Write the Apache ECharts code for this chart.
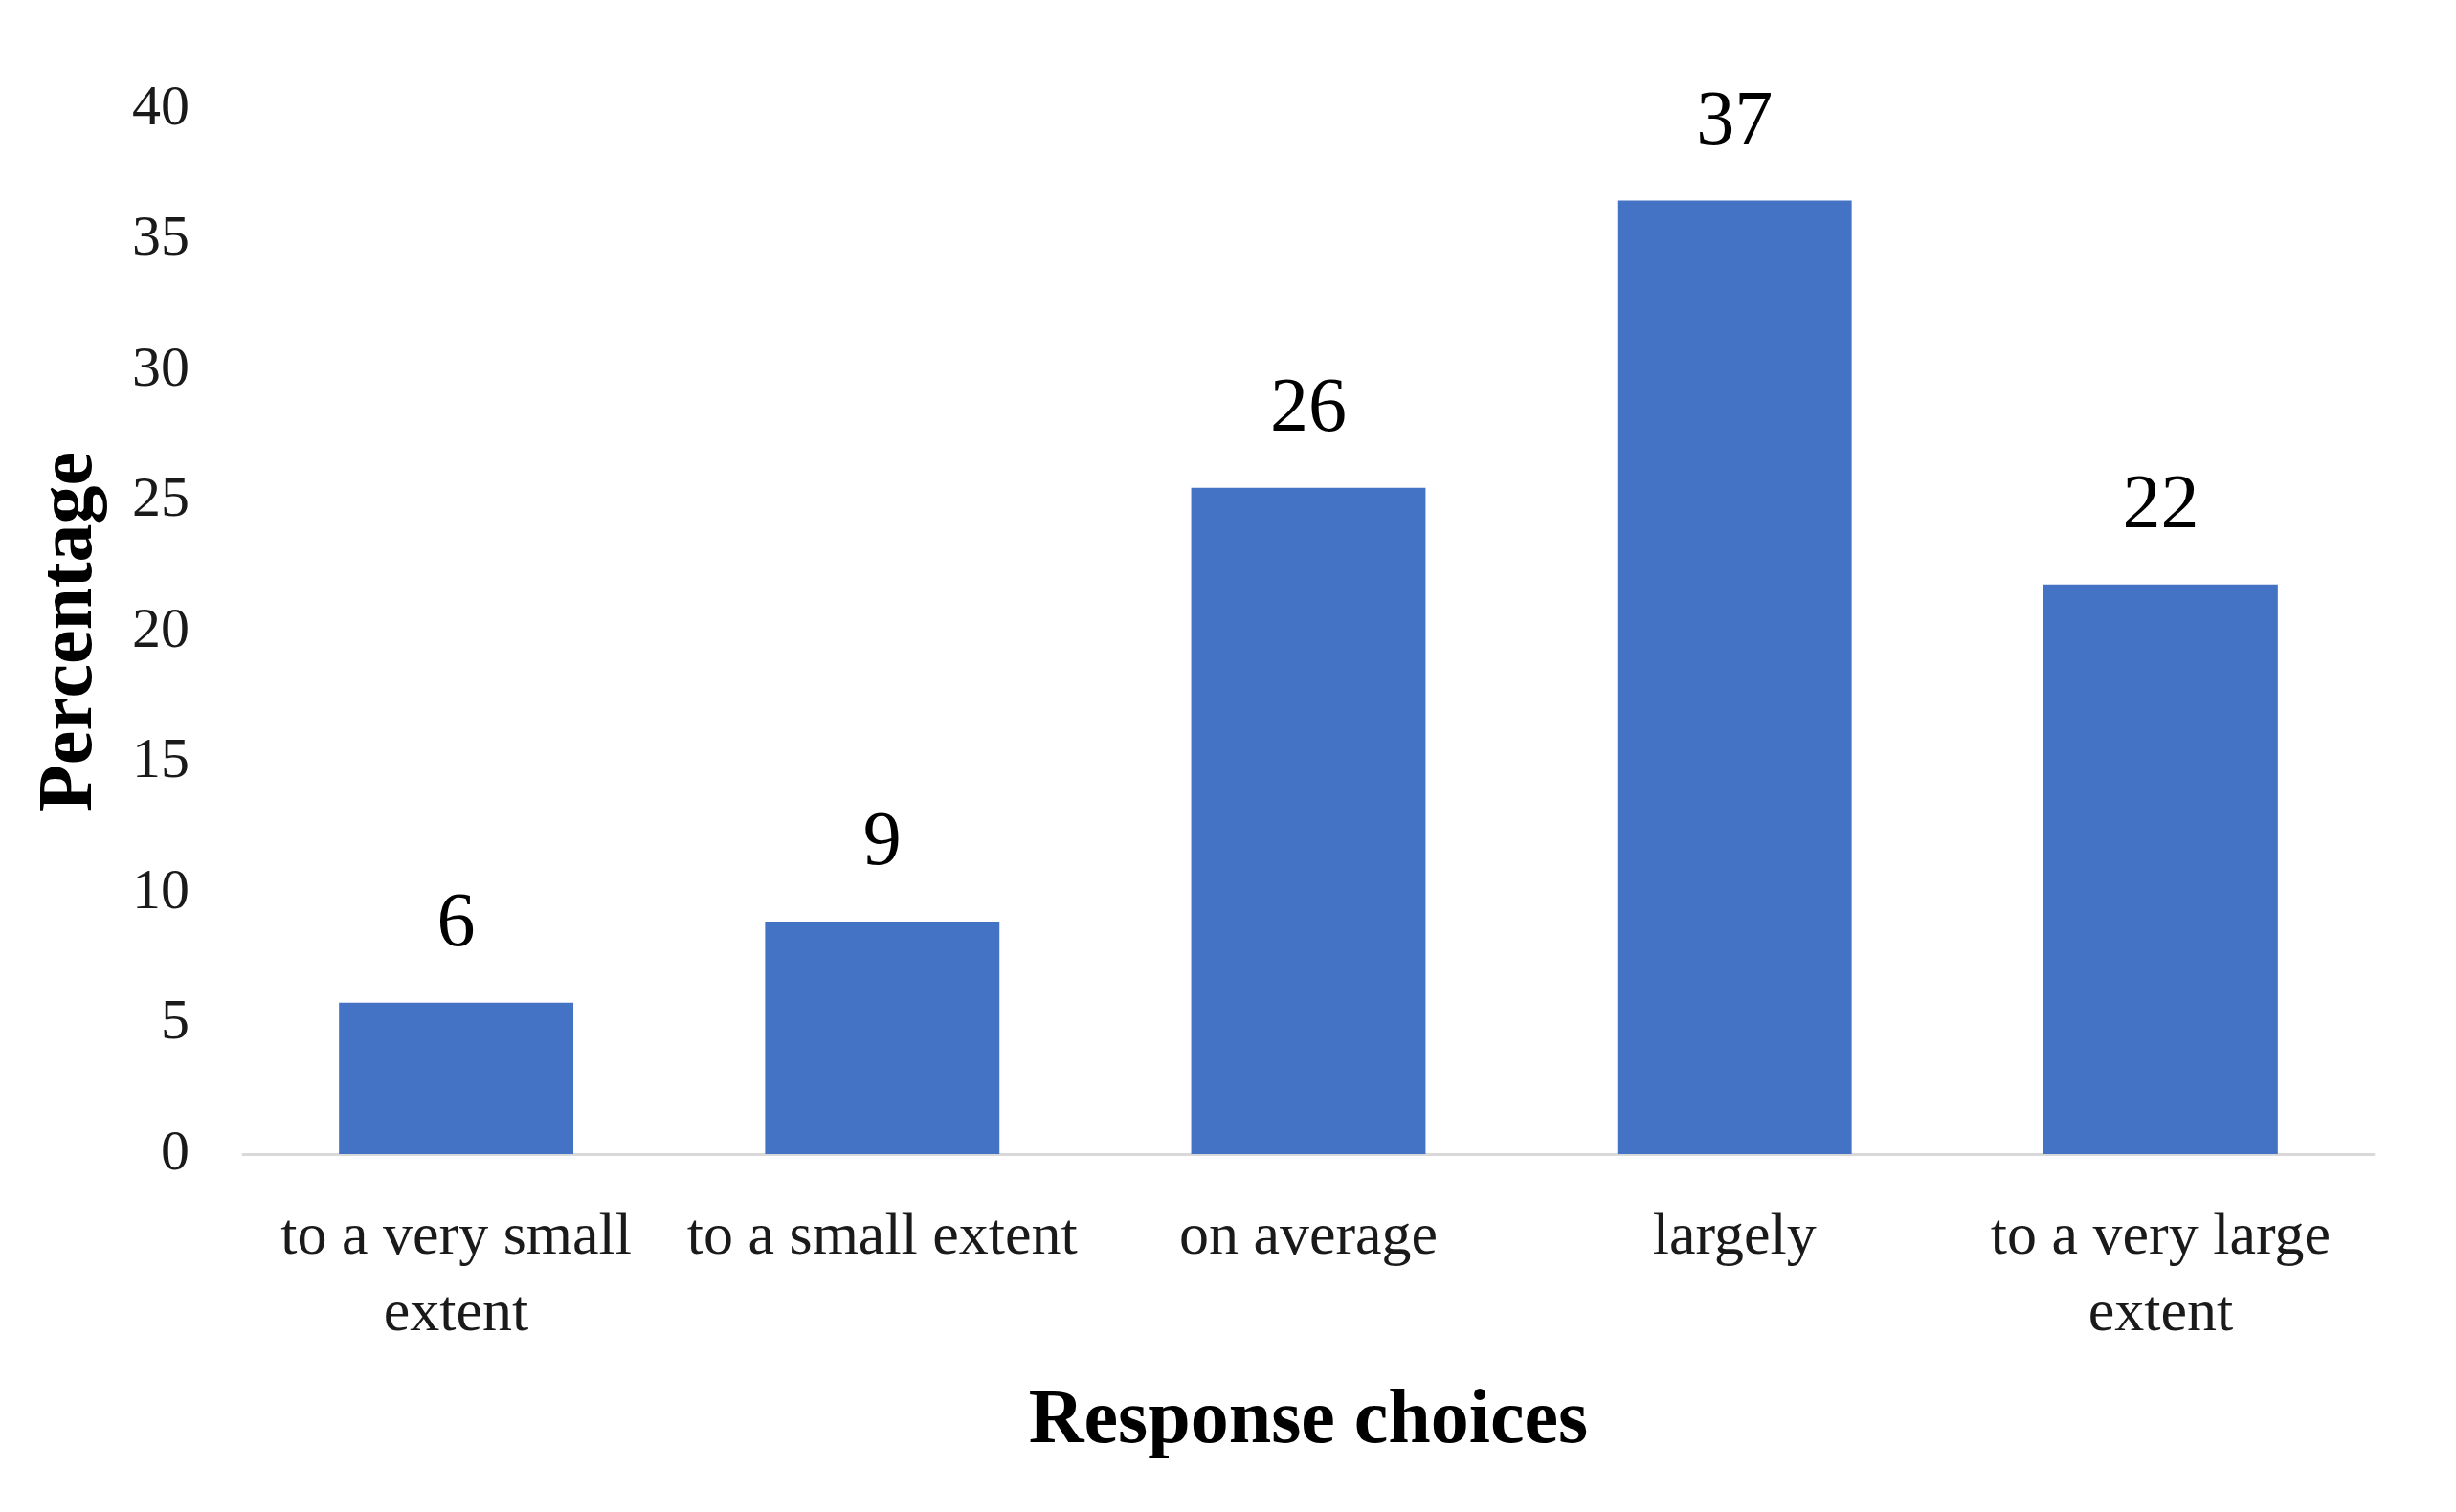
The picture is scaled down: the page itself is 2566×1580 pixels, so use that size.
<!DOCTYPE html>
<html>
<head>
<meta charset="utf-8">
<script src="https://cdn.jsdelivr.net/npm/echarts@6/dist/echarts.min.js"></script>
<style>
html,body{margin:0;padding:0;background:#fff;}
#chart{width:2566px;height:1580px;}
</style>
</head>
<body>
<div id="chart"></div>
<script>
const categories = ["to a very small\nextent", "to a small extent", "on average", "largely", "to a very large\nextent"];
const percentages = [5.8, 8.9, 25.5, 36.5, 21.8];
const yTicks = { min: 0, max: 40, interval: 5 };
const xTitle = "Response choices";
const yTitle = "Percentage";

const FONT = "'Liberation Serif', 'Times New Roman', serif";
const chart = echarts.init(document.getElementById('chart'));
chart.setOption({
  backgroundColor: '#ffffff',
  animation: false,
  grid: { left: 254, right: 86, top: 114, bottom: 374 },
  xAxis: {
    type: 'category',
    data: categories,
    name: xTitle,
    nameLocation: 'middle',
    nameGap: 240,
    nameTextStyle: { fontFamily: FONT, fontSize: 80, fontWeight: 'bold', color: '#000' },
    axisLine: { show: true, lineStyle: { color: '#d9d9d9', width: 3 } },
    axisTick: { show: false },
    axisLabel: { fontFamily: FONT, fontSize: 62, color: '#1a1a1a', margin: 48, lineHeight: 80, interval: 0 }
  },
  yAxis: {
    type: 'value',
    min: yTicks.min, max: yTicks.max, interval: yTicks.interval,
    name: yTitle,
    nameLocation: 'middle',
    nameRotate: 90,
    nameGap: 140,
    nameTextStyle: { fontFamily: FONT, fontSize: 80, fontWeight: 'bold', color: '#000' },
    axisLine: { show: false },
    axisTick: { show: false },
    splitLine: { show: false },
    axisLabel: { fontFamily: FONT, fontSize: 60, color: '#1a1a1a', margin: 56, padding: [6, 0, 0, 0] }
  },
  series: [{
    type: 'bar',
    data: percentages,
    barCategoryGap: '45%',
    itemStyle: { color: '#4472C4' },
    label: {
      show: true,
      position: 'top',
      distance: 41,
      fontFamily: FONT,
      fontSize: 80,
      color: '#000',
      formatter: p => Math.round(p.value)
    }
  }]
});
</script>
</body>
</html>
